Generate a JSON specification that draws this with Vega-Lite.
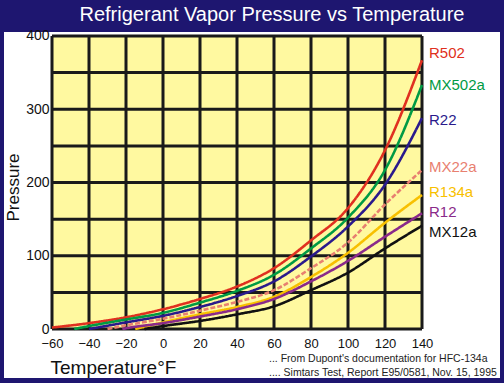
{
  "$schema": "https://vega.github.io/schema/vega-lite/v6.json",
  "width": 496,
  "height": 346,
  "autosize": {"type": "none"},
  "padding": {"left": 4, "top": 32, "right": 4, "bottom": 5},
  "background": "#1e1670",
  "config": {
    "view": {"fill": "white", "stroke": null},
    "font": "Liberation Sans",
    "text": {"font": "Liberation Sans"}
  },
  "title": {
    "text": "Refrigerant Vapor Pressure vs Temperature",
    "color": "white",
    "fontSize": 20,
    "font": "Liberation Sans",
    "fontWeight": "normal",
    "anchor": "middle",
    "frame": "group",
    "offset": 11,
    "baseline": "alphabetic",
    "dx": 20,
    "dy": 23
  },
  "datasets": {
    "curves": [
      {"series": "R502", "T": -60, "P": 2}, {"series": "R502", "T": -40, "P": 8}, {"series": "R502", "T": -20, "P": 16}, {"series": "R502", "T": 0, "P": 27}, {"series": "R502", "T": 20, "P": 41}, {"series": "R502", "T": 40, "P": 58}, {"series": "R502", "T": 60, "P": 83}, {"series": "R502", "T": 80, "P": 121}, {"series": "R502", "T": 100, "P": 165}, {"series": "R502", "T": 120, "P": 244}, {"series": "R502", "T": 140, "P": 367},
      {"series": "MX502a", "T": -48, "P": 0}, {"series": "MX502a", "T": -40, "P": 4}, {"series": "MX502a", "T": -20, "P": 13}, {"series": "MX502a", "T": 0, "P": 22}, {"series": "MX502a", "T": 20, "P": 36}, {"series": "MX502a", "T": 40, "P": 52}, {"series": "MX502a", "T": 60, "P": 74}, {"series": "MX502a", "T": 80, "P": 110}, {"series": "MX502a", "T": 100, "P": 152}, {"series": "MX502a", "T": 120, "P": 217}, {"series": "MX502a", "T": 140, "P": 333},
      {"series": "R22", "T": -40, "P": 0}, {"series": "R22", "T": -20, "P": 9}, {"series": "R22", "T": 0, "P": 18}, {"series": "R22", "T": 20, "P": 30}, {"series": "R22", "T": 40, "P": 45}, {"series": "R22", "T": 60, "P": 65}, {"series": "R22", "T": 80, "P": 99}, {"series": "R22", "T": 100, "P": 140}, {"series": "R22", "T": 120, "P": 197}, {"series": "R22", "T": 140, "P": 288},
      {"series": "MX22a", "T": -30, "P": 0}, {"series": "MX22a", "T": -20, "P": 5}, {"series": "MX22a", "T": 0, "P": 14}, {"series": "MX22a", "T": 20, "P": 25}, {"series": "MX22a", "T": 40, "P": 37}, {"series": "MX22a", "T": 60, "P": 53}, {"series": "MX22a", "T": 80, "P": 83}, {"series": "MX22a", "T": 100, "P": 118}, {"series": "MX22a", "T": 120, "P": 170}, {"series": "MX22a", "T": 140, "P": 217},
      {"series": "R134a", "T": -15, "P": 0}, {"series": "R134a", "T": 0, "P": 9}, {"series": "R134a", "T": 20, "P": 20}, {"series": "R134a", "T": 40, "P": 30}, {"series": "R134a", "T": 60, "P": 44}, {"series": "R134a", "T": 80, "P": 71}, {"series": "R134a", "T": 100, "P": 104}, {"series": "R134a", "T": 120, "P": 145}, {"series": "R134a", "T": 140, "P": 183},
      {"series": "R12", "T": -22, "P": 0}, {"series": "R12", "T": -20, "P": 1}, {"series": "R12", "T": 0, "P": 8}, {"series": "R12", "T": 20, "P": 17}, {"series": "R12", "T": 40, "P": 27}, {"series": "R12", "T": 60, "P": 41}, {"series": "R12", "T": 80, "P": 65}, {"series": "R12", "T": 100, "P": 93}, {"series": "R12", "T": 120, "P": 126}, {"series": "R12", "T": 140, "P": 158},
      {"series": "MX12a", "T": -10, "P": 0}, {"series": "MX12a", "T": 0, "P": 4}, {"series": "MX12a", "T": 20, "P": 11}, {"series": "MX12a", "T": 40, "P": 20}, {"series": "MX12a", "T": 60, "P": 31}, {"series": "MX12a", "T": 80, "P": 53}, {"series": "MX12a", "T": 100, "P": 77}, {"series": "MX12a", "T": 120, "P": 110}, {"series": "MX12a", "T": 140, "P": 141}
    ],
    "labels": [
      {"series": "R502", "P": 377},
      {"series": "MX502a", "P": 333},
      {"series": "R22", "P": 285},
      {"series": "MX22a", "P": 221},
      {"series": "R134a", "P": 187},
      {"series": "R12", "P": 160},
      {"series": "MX12a", "P": 132}
    ],
    "xgrid": [{"T": -60}, {"T": -40}, {"T": -20}, {"T": 0}, {"T": 20}, {"T": 40}, {"T": 60}, {"T": 80}, {"T": 100}, {"T": 120}, {"T": 140}],
    "ygrid": [{"P": 0}, {"P": 50}, {"P": 100}, {"P": 150}, {"P": 200}, {"P": 250}, {"P": 300}, {"P": 350}, {"P": 400}]
  },
  "layer": [
    {
      "data": {"values": [{}]},
      "mark": {"type": "rect", "fill": "#fff9a0"},
      "encoding": {
        "x": {
          "datum": -60, "type": "quantitative",
          "scale": {"domain": [-85.946, 182.162], "nice": false, "zero": false},
          "axis": {
            "orient": "bottom", "offset": -49, "values": [-60, -40, -20, 0, 20, 40, 60, 80, 100, 120, 140],
            "domain": false, "ticks": false, "grid": false, "labelPadding": 8,
            "labelFontSize": 13, "labelColor": "#111", "labelFont": "Liberation Sans",
            "title": "Temperature°F", "titleFontSize": 19, "titleFontWeight": "normal", "titleColor": "#111",
            "titleFont": "Liberation Sans", "titleX": 46, "titleY": 44, "titleAlign": "left", "titleBaseline": "alphabetic", "titleAnchor": "start"
          }
        },
        "x2": {"datum": 140},
        "y": {
          "datum": 0, "type": "quantitative",
          "scale": {"domain": [-66.89, 405.46], "nice": false, "zero": false},
          "axis": {
            "orient": "left", "offset": -48, "values": [0, 100, 200, 300, 400],
            "domain": false, "ticks": false, "grid": false, "labelPadding": 3,
            "labelFontSize": 14, "labelColor": "#111", "labelFont": "Liberation Sans",
            "title": "Pressure", "titleFontSize": 17, "titleFontWeight": "normal", "titleColor": "#111",
            "titleFont": "Liberation Sans", "titleX": -39, "titleY": 155, "titleAlign": "center", "titleBaseline": "middle", "titleAngle": 270
          }
        },
        "y2": {"datum": 400}
      }
    },
    {
      "data": {"name": "xgrid"},
      "mark": {"type": "rule", "color": "#1a1a1a", "strokeWidth": 3},
      "encoding": {
        "x": {"field": "T", "type": "quantitative", "scale": {"domain": [-85.946, 182.162], "nice": false, "zero": false}},
        "y": {"datum": 0, "type": "quantitative", "scale": {"domain": [-66.89, 405.46], "nice": false, "zero": false}},
        "y2": {"datum": 400}
      }
    },
    {
      "data": {"name": "ygrid"},
      "mark": {"type": "rule", "color": "#1a1a1a", "strokeWidth": 3},
      "encoding": {
        "y": {"field": "P", "type": "quantitative", "scale": {"domain": [-66.89, 405.46], "nice": false, "zero": false}},
        "x": {"datum": -60, "type": "quantitative", "scale": {"domain": [-85.946, 182.162], "nice": false, "zero": false}},
        "x2": {"datum": 140}
      }
    },
    {
      "data": {"name": "curves"},
      "mark": {"type": "line", "strokeWidth": 2.6, "interpolate": "monotone"},
      "encoding": {
        "x": {"field": "T", "type": "quantitative", "scale": {"domain": [-85.946, 182.162], "nice": false, "zero": false}},
        "y": {"field": "P", "type": "quantitative", "scale": {"domain": [-66.89, 405.46], "nice": false, "zero": false}},
        "color": {
          "field": "series", "type": "nominal", "legend": null,
          "scale": {"domain": ["R502", "MX502a", "R22", "MX22a", "R134a", "R12", "MX12a"],
                    "range": ["#e03020", "#009a44", "#2a1a8c", "#e88070", "#f8c000", "#8a2a8a", "#111111"]}
        },
        "strokeDash": {
          "field": "series", "type": "nominal", "legend": null,
          "scale": {"domain": ["R502", "MX502a", "R22", "MX22a", "R134a", "R12", "MX12a"],
                    "range": [[1, 0], [1, 0], [1, 0], [5, 2], [1, 0], [1, 0], [1, 0]]}
        },
        "order": {"field": "T", "type": "quantitative"}
      }
    },
    {
      "data": {"name": "labels"},
      "mark": {"type": "text", "align": "left", "baseline": "middle", "dx": 7, "fontSize": 15, "font": "Liberation Sans"},
      "encoding": {
        "x": {"datum": 140, "type": "quantitative", "scale": {"domain": [-85.946, 182.162], "nice": false, "zero": false}},
        "y": {"field": "P", "type": "quantitative", "scale": {"domain": [-66.89, 405.46], "nice": false, "zero": false}},
        "text": {"field": "series", "type": "nominal"},
        "color": {"field": "series", "type": "nominal", "legend": null}
      }
    },
    {
      "data": {"values": [{}]},
      "mark": {"type": "text", "align": "left", "baseline": "middle", "fontSize": 10.5, "font": "Liberation Sans", "color": "#222", "text": "...    From Dupont's documentation for HFC-134a"},
      "encoding": {
        "x": {"datum": 57.3, "type": "quantitative", "scale": {"domain": [-85.946, 182.162], "nice": false, "zero": false}},
        "y": {"datum": -41.5, "type": "quantitative", "scale": {"domain": [-66.89, 405.46], "nice": false, "zero": false}}
      }
    },
    {
      "data": {"values": [{}]},
      "mark": {"type": "text", "align": "left", "baseline": "middle", "fontSize": 10.5, "font": "Liberation Sans", "color": "#222", "text": "....   Simtars Test, Report E95/0581,  Nov. 15, 1995"},
      "encoding": {
        "x": {"datum": 57.3, "type": "quantitative", "scale": {"domain": [-85.946, 182.162], "nice": false, "zero": false}},
        "y": {"datum": -60.5, "type": "quantitative", "scale": {"domain": [-66.89, 405.46], "nice": false, "zero": false}}
      }
    }
  ]
}
